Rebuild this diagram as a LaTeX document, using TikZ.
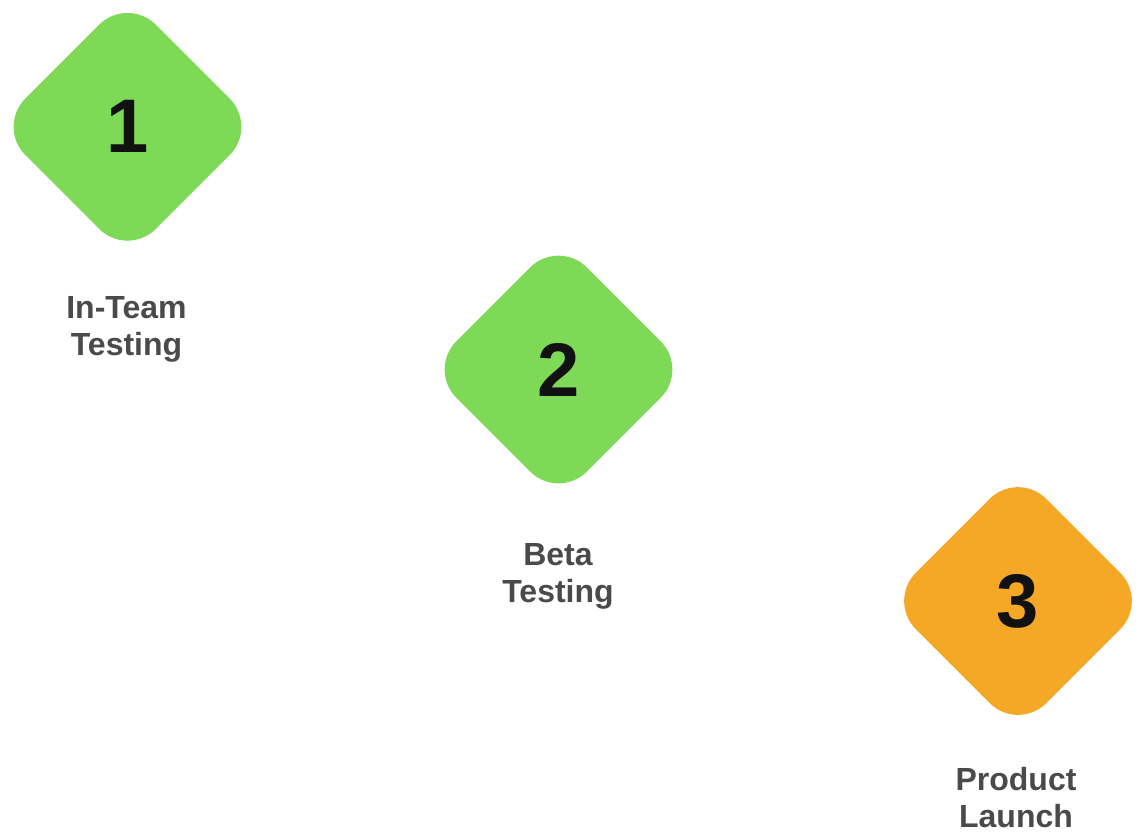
\documentclass[tikz,border=0pt]{standalone}
\usepackage{fontspec}
\setmainfont{Liberation Sans}
\usetikzlibrary{shapes.geometric}
\definecolor{stepgreen}{HTML}{7ED957}
\definecolor{steporange}{HTML}{F4A825}
\definecolor{labelgray}{HTML}{4A4A4A}
\definecolor{numblack}{HTML}{111111}
\tikzset{
  stepdiamond/.style={diamond, aspect=1, inner sep=0pt, minimum width=261pt, minimum height=261pt,
    rounded corners=40pt, text=numblack, font=\fontsize{76}{76}\selectfont\bfseries},
  steplabel/.style={anchor=base, inner sep=0pt, text=labelgray, font=\fontsize{32}{32}\selectfont\bfseries}
}
\begin{document}
\begin{tikzpicture}[x=1pt,y=-1pt]
\useasboundingbox (0,0) rectangle (1146,836);
\node[stepdiamond, fill=stepgreen] (d1) at (127.5,126.8) {1};
\node[stepdiamond, fill=stepgreen] (d2) at (558.5,369.5) {2};
\node[stepdiamond, fill=steporange] (d3) at (1018,601) {3};
\node[steplabel] (l1a) at (126.5,318) {In-Team};
\node[steplabel] (l1b) at (126.5,355) {Testing};
\node[steplabel] (l2a) at (558,565) {Beta};
\node[steplabel] (l2b) at (558,602) {Testing};
\node[steplabel] (l3a) at (1016,790) {Product};
\node[steplabel] (l3b) at (1016,827) {Launch};
\end{tikzpicture}
\end{document}
